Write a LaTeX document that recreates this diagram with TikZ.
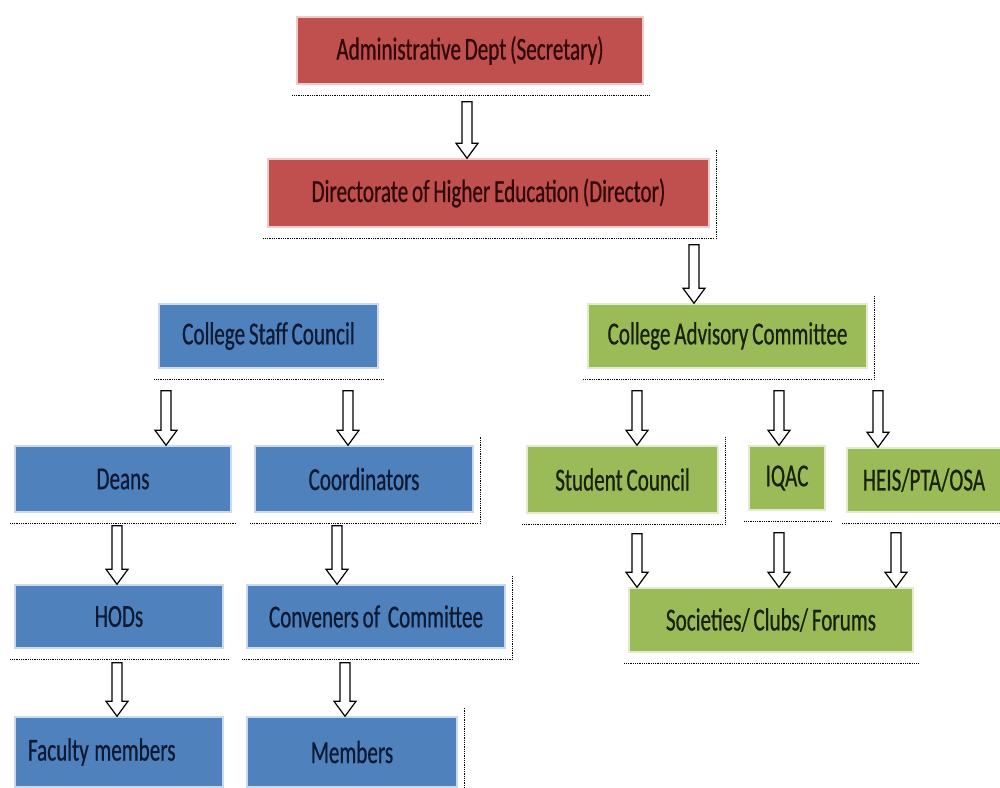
\documentclass[tikz,border=0pt]{standalone}
\usepackage{fontspec}
\setmainfont[FakeStretch=0.66,FakeBold=0.6,WordSpace=0.8]{Carlito}
\usetikzlibrary{calc}
\definecolor{boxred}{HTML}{C0504D}
\definecolor{boxblue}{HTML}{4F81BD}
\definecolor{boxgreen}{HTML}{9BBB59}
\definecolor{txtred}{HTML}{300808}
\definecolor{txtblue}{HTML}{0C1A33}
\definecolor{txtgreen}{HTML}{182208}
\begin{document}
\begin{tikzpicture}[x=1pt,y=-1pt,
  box/.style={rectangle, inner sep=0pt, font=\fontsize{32}{34}\selectfont},
  redbox/.style={box, fill=boxred, draw=boxred!30, line width=1.5pt, text=txtred},
  bluebox/.style={box, fill=boxblue, draw=boxblue!30, line width=1.5pt, text=txtblue},
  greenbox/.style={box, fill=boxgreen, draw=boxgreen!30, line width=1.5pt, text=txtgreen},
  shadowline/.style={black, line width=0.9pt, dash pattern=on 0.9pt off 0.9pt},
  blockarrow/.style={draw=black, fill=white, line width=1.2pt, line join=miter,
    to path={let \p1=(\tikztostart), \p2=(\tikztotarget) in
      (\x1-5pt,\y1-#1) -- (\x1+5pt,\y1-#1) -- (\x1+5pt,\y2+15pt) -- (\x1+11pt,\y2+15pt)
      -- (\x1,\y2) -- (\x1-11pt,\y2+15pt) -- (\x1-5pt,\y2+15pt) -- cycle}},
  blockarrow/.default=17pt,
]
\useasboundingbox (0,0) rectangle (1000,787);
\fill[white] (0,0) rectangle (1000,787);

% boxes
\node[redbox, minimum width=346, minimum height=67] (adm) at (470,50.5) {Administrative Dept (Secretary)};
\node[redbox, minimum width=441, minimum height=68] (dir) at (488.5,193) {Directorate of Higher Education (Director)};

\node[bluebox, minimum width=219, minimum height=64] (csc) at (268.5,336) {College Staff Council};
\node[bluebox, minimum width=216, minimum height=66] (deans) at (123,479) {Deans};
\node[bluebox, minimum width=218, minimum height=66] (coord) at (364,479) {Coordinators};
\node[bluebox, minimum width=208, minimum height=63] (hods) at (119,616.5) {HODs};
\node[bluebox, minimum width=258, minimum height=63] (conv) at (376,616.5) {Conveners of~~Committee};
\node[bluebox, minimum width=208, minimum height=70, text width=182, align=left, inner xsep=13pt] (fac) at (119,752) {\mbox{Faculty\kern-5pt{} members}};
\node[bluebox, minimum width=210, minimum height=70] (mem) at (352,752) {Members};

\node[greenbox, minimum width=279, minimum height=64] (cac) at (727.5,336) {College Advisory Committee};
\node[greenbox, minimum width=191, minimum height=67] (sc) at (622.5,479.5) {Student Council};
\node[greenbox, minimum width=76, minimum height=64] (iqac) at (787,478) {IQAC};
\node[greenbox, minimum width=154, minimum height=64] (heis) at (924,480) {HEIS/PTA/OSA};
\node[greenbox, minimum width=284, minimum height=64] (soc) at (771,620) {Societies/ Clubs/ Forums};

% dotted shadow lines
\foreach \n in {adm,dir,csc,deans,coord,hods,conv,cac,sc,iqac,heis,soc}
  \draw[shadowline] ([xshift=-4pt,yshift=-11pt]\n.south west) -- ([xshift=5pt,yshift=-11pt]\n.south east);
\foreach \n in {dir,cac,sc,coord,conv,mem}
  \draw[shadowline] ([xshift=7pt,yshift=-11pt]\n.south east) -- ([xshift=7pt,yshift=8pt]\n.north east);

% block arrows
\draw[blockarrow] (adm.south -| 467,0) to (dir.north -| 467,0);
\draw[blockarrow] (dir.south -| 694,0) to (cac.north -| 694,0);
\draw[blockarrow=22pt] (csc.south -| 166,0) to (deans.north -| 166,0);
\draw[blockarrow=22pt] (csc.south -| 348,0) to (coord.north -| 348,0);
\draw[blockarrow=13pt] (deans.south -| 117,0) to (hods.north -| 117,0);
\draw[blockarrow=13pt] (coord.south -| 337,0) to (conv.north -| 337,0);
\draw[blockarrow=14pt] (hods.south -| 117,0) to (fac.north -| 117,0);
\draw[blockarrow=14pt] (conv.south -| 345,0) to (mem.north -| 345,0);
\draw[blockarrow=22pt] (cac.south -| 637,0) to (sc.north -| 637,0);
\draw[blockarrow=22pt] (cac.south -| 779,0) to (iqac.north -| 779,0);
\draw[blockarrow=22pt] (cac.south -| 878,0) to (heis.north -| 878,0);
\draw[blockarrow=20pt] (sc.south -| 637,0) to (soc.north -| 637,0);
\draw[blockarrow=22pt] (iqac.south -| 779,0) to (soc.north -| 779,0);
\draw[blockarrow=20pt] (heis.south -| 896,0) to (soc.north -| 896,0);
\end{tikzpicture}
\end{document}
